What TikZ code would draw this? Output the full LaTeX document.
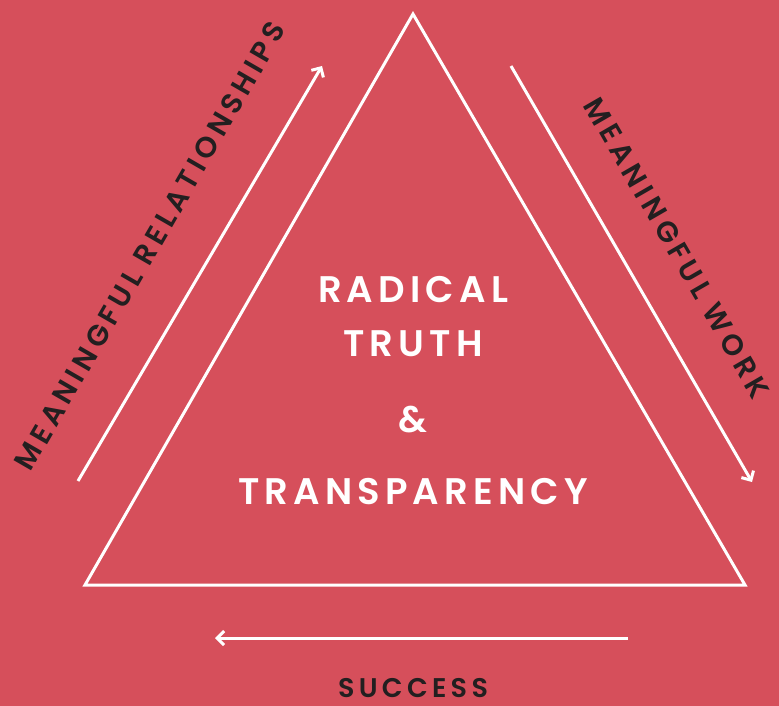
\documentclass[tikz,border=0pt]{standalone}
\usepackage{fontspec}
\setmainfont{Poppins}
\newfontfamily\corefont[LetterSpace=14]{Poppins SemiBold}
\newfontfamily\sidefont[LetterSpace=16]{Poppins SemiBold}
\usetikzlibrary{arrows.meta}
\definecolor{coral}{RGB}{214,79,91}
\definecolor{ink}{RGB}{35,31,32}

\begin{document}
\begin{tikzpicture}[x=1pt,y=-1pt,
  every path/.style={>={Straight Barb[length=7pt,width=14pt]}},
  edgeline/.style={draw=white,line width=3pt,line join=miter},
  flowline/.style={draw=white,line width=3pt,->},
  core/.style={text=white,font=\corefont\fontsize{37}{37}\selectfont,inner sep=0pt},
  side/.style={text=ink,font=\sidefont\fontsize{27}{27}\selectfont,inner sep=0pt}]
\fill[coral] (0,0) rectangle (779,706);
\useasboundingbox (0,0) rectangle (779,706);
% triangle
\coordinate (top)   at (413,14);
\coordinate (left)  at (85,585);
\coordinate (right) at (745,585);
\draw[edgeline] (top) -- (left) -- (right) -- cycle;
% centre text
\node[core] (radical) at (413,290) {RADICAL};
\node[core] (truth)   at (413,344) {TRUTH};
\node[core] (amp)     at (413,420) {\&};
\node[core] (transp)  at (413,492) {TRANSPARENCY};
% arrows
\coordinate (l0) at (78,481);
\coordinate (l1) at (322,66);
\coordinate (r0) at (511,66);
\coordinate (r1) at (752,482);
\coordinate (b0) at (628,638);
\coordinate (b1) at (215,638);
\draw[flowline] (l0) -- (l1);
\draw[flowline] (r0) -- (r1);
\draw[flowline] (b0) -- (b1);
% side labels
\node[side,rotate=60,font=\sidefont\fontsize{29}{29}\selectfont]  (rel)  at (150,246) {MEANINGFUL RELATIONSHIPS};
\node[side,rotate=-60,font=\sidefont\fontsize{29}{29}\selectfont] (work) at (677,248) {MEANINGFUL WORK};
\node[side]            (success) at (413,688) {SUCCESS};
\end{tikzpicture}
\end{document}
